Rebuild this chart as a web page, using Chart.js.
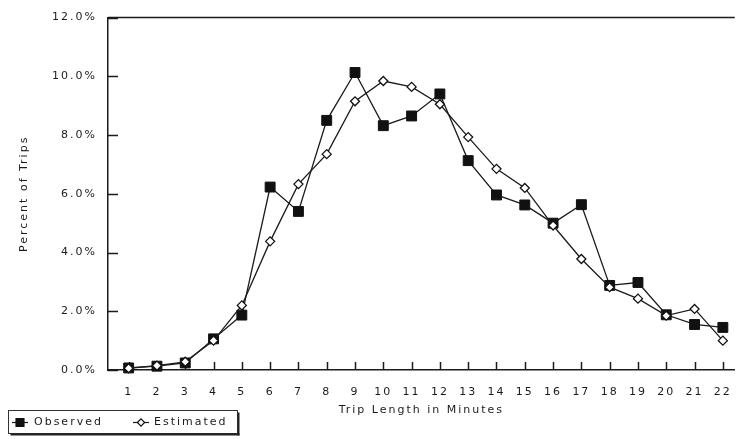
<!DOCTYPE html>
<html>
<head>
<meta charset="utf-8">
<script src="https://cdn.jsdelivr.net/npm/chart.js@4.4.1/dist/chart.umd.min.js"></script>
<style>
  html, body { margin: 0; padding: 0; background: #fff; }
  #wrap { width: 746px; height: 439px; }
</style>
</head>
<body>
<div id="wrap"><canvas id="c" width="746" height="439"></canvas></div>
<script>
// Trip length distribution: observed vs. estimated share of trips by minute
const minutes = [1, 2, 3, 4, 5, 6, 7, 8, 9, 10, 11, 12, 13, 14, 15, 16, 17, 18, 19, 20, 21, 22];
const observedPct = [0.07, 0.13, 0.24, 1.06, 1.87, 6.23, 5.40, 8.50, 10.13, 8.32, 8.65, 9.40, 7.13, 5.96, 5.62, 5.00, 5.63, 2.88, 2.98, 1.88, 1.55, 1.45];
const estimatedPct = [0.06, 0.15, 0.28, 1.00, 2.20, 4.38, 6.33, 7.35, 9.15, 9.84, 9.64, 9.05, 7.93, 6.85, 6.20, 4.92, 3.78, 2.82, 2.43, 1.85, 2.08, 1.00];
const percentTicks = [0, 2, 4, 6, 8, 10, 12];
const seriesNames = ['Observed', 'Estimated'];

const INK = '#1b1b1b';
const FONT = { family: '"DejaVu Sans", "Liberation Sans", sans-serif', size: 11 };
const SPACING = '2px';

// Wide lettering used across all chart text
const spacedText = {
  id: 'spacedText',
  beforeDraw(chart) { chart.ctx.letterSpacing = SPACING; },
  afterDraw(chart) { chart.ctx.letterSpacing = '0px'; }
};

// Inward tick marks on both axes plus the top frame line
const frameTicks = {
  id: 'frameTicks',
  beforeDatasetsDraw(chart) {
    const { ctx, chartArea: a, scales: { x, y } } = chart;
    ctx.save();
    ctx.strokeStyle = INK;
    ctx.lineWidth = 1.5;
    ctx.beginPath();
    ctx.moveTo(a.left, a.top);
    ctx.lineTo(a.right, a.top);
    y.ticks.forEach(t => {
      const py = Math.round(y.getPixelForValue(t.value)) + 0.5;
      ctx.moveTo(a.left, py);
      ctx.lineTo(a.left + 10, py);
    });
    x.ticks.forEach(t => {
      const px = Math.round(x.getPixelForValue(t.value)) + 0.5;
      ctx.moveTo(px, a.bottom);
      ctx.lineTo(px, a.bottom - 8);
    });
    ctx.stroke();
    ctx.restore();
  }
};

// Boxed legend in the lower-left corner
const boxLegend = {
  id: 'boxLegend',
  afterDraw(chart) {
    const ctx = chart.ctx;
    const bx = 8.5, by = 410.5, bw = 229, bh = 23;
    ctx.save();
    ctx.strokeStyle = '#333';
    ctx.lineWidth = 1;
    ctx.strokeRect(bx, by, bw, bh);
    ctx.fillStyle = '#222';
    ctx.fillRect(bx + bw, by + 2, 2, bh);
    ctx.fillRect(bx + 2, by + bh, bw, 2);

    const cy = by + bh / 2 + 0.5;
    const entries = [
      { ds: chart.data.datasets[0], mx: 20, tx: 34 },
      { ds: chart.data.datasets[1], mx: 141, tx: 154 }
    ];
    entries.forEach(({ ds, mx, tx }) => {
      ctx.strokeStyle = INK;
      ctx.lineWidth = 1.2;
      ctx.beginPath();
      ctx.moveTo(mx - 8, cy);
      ctx.lineTo(mx + 8, cy);
      ctx.stroke();
      ctx.fillStyle = ds.pointBackgroundColor;
      ctx.strokeStyle = ds.pointBorderColor;
      Chart.helpers.drawPoint(ctx, {
        pointStyle: ds.pointStyle,
        radius: ds.pointRadius * 0.8,
        rotation: 0,
        borderWidth: ds.pointBorderWidth
      }, mx, cy);
      ctx.fillStyle = INK;
      ctx.font = `${FONT.size}px ${FONT.family}`;
      ctx.letterSpacing = '2px';
      ctx.textAlign = 'left';
      ctx.textBaseline = 'middle';
      ctx.fillText(ds.label, tx, cy);
    });
    ctx.restore();
  }
};

new Chart(document.getElementById('c'), {
  type: 'line',
  data: {
    datasets: [
      {
        label: seriesNames[0],
        data: minutes.map((m, i) => ({ x: m, y: observedPct[i] })),
        borderColor: INK,
        borderWidth: 1.3,
        pointStyle: 'rect',
        pointRadius: 7,
        pointBackgroundColor: '#111',
        pointBorderColor: '#111',
        pointBorderWidth: 1,
        tension: 0,
        clip: false,
        order: 2
      },
      {
        label: seriesNames[1],
        data: minutes.map((m, i) => ({ x: m, y: estimatedPct[i] })),
        borderColor: INK,
        borderWidth: 1.3,
        pointStyle: 'rectRot',
        pointRadius: 4.5,
        pointBackgroundColor: '#fff',
        pointBorderColor: '#111',
        pointBorderWidth: 1.3,
        tension: 0,
        clip: false,
        order: 1
      }
    ]
  },
  options: {
    responsive: false,
    devicePixelRatio: 1,
    animation: false,
    layout: { padding: { left: 0, right: 1, top: 14, bottom: 0 } },
    plugins: { legend: { display: false }, tooltip: { enabled: false } },
    scales: {
      x: {
        type: 'linear',
        min: 0.27,
        max: 22.42,
        afterBuildTicks: s => { s.ticks = minutes.map(v => ({ value: v })); },
        afterFit: s => { s.height = 69; },
        grid: { display: false, drawTicks: false },
        border: { display: true, color: INK, width: 1.5 },
        ticks: { color: INK, font: FONT, padding: 16, autoSkip: false, maxRotation: 0 },
        title: { display: true, text: 'Trip Length in Minutes', color: INK, font: FONT, padding: { top: 22, bottom: 22 } }
      },
      y: {
        min: 0,
        max: 12,
        afterBuildTicks: s => { s.ticks = percentTicks.map(v => ({ value: v })); },
        afterFit: s => { s.width = 108; },
        grid: { display: false, drawTicks: false },
        border: { display: true, color: INK, width: 1.5 },
        ticks: { color: INK, font: FONT, padding: 11, callback: v => v.toFixed(1) + '%' },
        title: { display: true, text: 'Percent of Trips', color: INK, font: FONT, padding: { top: 18, bottom: 18 } }
      }
    }
  },
  plugins: [spacedText, frameTicks, boxLegend]
});
</script>
</body>
</html>
